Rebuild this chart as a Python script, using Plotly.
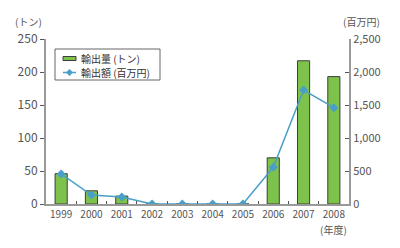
import plotly.graph_objects as go

years = ["1999", "2000", "2001", "2002", "2003", "2004", "2005", "2006", "2007", "2008"]
volume_t = [46, 20, 12, 0, 0, 0, 0, 70, 217, 193]
value_myen = [455, 136, 106, 0, 0, 0, 0, 556, 1727, 1459]
series_names = ["輸出量 (トン)", "輸出額 (百万円)"]

FONT = "Noto Sans CJK JP"
GRAY = "#555555"
AXIS = "#999999"
GREEN = "#7dc24b"
BLUE = "#4a9fc8"

fig = go.Figure()
fig.add_trace(go.Bar(
    x=years, y=volume_t, name=series_names[0],
    marker=dict(color=GREEN, line=dict(color="#3d3d3d", width=1)),
    width=0.4, yaxis="y",
))
fig.add_trace(go.Scatter(
    x=years, y=value_myen, name=series_names[1],
    mode="lines+markers",
    line=dict(color=BLUE, width=1.5),
    marker=dict(symbol="diamond", size=7, color=BLUE),
    yaxis="y2",
))

# compact legend drawn in paper coordinates (plot area is 303 x 165 px)
PW, PH = 303.0, 165.0
def px(x):
    return (x - 46) / PW
def py(y):
    return (204 - y) / PH

lx0, lx1, ly0, ly1 = px(55), px(160), py(49), py(80)
sx0, sx1 = px(63), px(76)
row1, row2 = py(58.5), py(72.5)
dx, dy = 3.5 / PW, 3.5 / PH
cx = px(69.5)

shapes = [
    dict(type="rect", xref="paper", yref="paper", x0=lx0, x1=lx1, y0=ly1, y1=ly0,
         line=dict(color="#666666", width=1), fillcolor="white", layer="above"),
    dict(type="rect", xref="paper", yref="paper", x0=sx0, x1=sx1,
         y0=row1 - 2 / PH, y1=row1 + 2 / PH,
         line=dict(color="#3d3d3d", width=1), fillcolor=GREEN, layer="above"),
    dict(type="line", xref="paper", yref="paper", x0=sx0, x1=sx1, y0=row2, y1=row2,
         line=dict(color=BLUE, width=1.5), layer="above"),
    dict(type="path", xref="paper", yref="paper",
         path=f"M {cx - dx} {row2} L {cx} {row2 + dy} L {cx + dx} {row2} L {cx} {row2 - dy} Z",
         line=dict(color=BLUE, width=0), fillcolor=BLUE, layer="above"),
]

legend_labels = [
    dict(text=name, xref="paper", yref="paper", x=px(80), y=row,
         xanchor="left", yanchor="middle", showarrow=False, borderpad=0,
         font=dict(size=10, color="#333333"))
    for name, row in zip(series_names, [row1, row2])
]

fig.update_layout(
    width=400, height=248,
    margin=dict(l=46, r=51, t=39, b=44),
    paper_bgcolor="white", plot_bgcolor="white",
    font=dict(family=FONT, color=GRAY, size=10),
    separators=".,",
    showlegend=False,
    xaxis=dict(
        type="category", range=[-0.5, 9.5],
        showline=True, linecolor=AXIS, linewidth=2,
        ticks="inside", tickson="boundaries", ticklen=3, tickcolor="#555555",
        showgrid=False, tickangle=0, tickfont=dict(size=10, color=GRAY),
    ),
    yaxis=dict(
        range=[0, 250], dtick=50,
        showline=True, linecolor=AXIS, linewidth=2,
        ticks="outside", ticklen=4, tickcolor="#555555",
        showgrid=False, zeroline=False,
        tickfont=dict(size=12, color=GRAY),
    ),
    yaxis2=dict(
        range=[0, 2500], dtick=500, overlaying="y", side="right",
        showline=True, linecolor=AXIS, linewidth=2,
        ticks="inside", ticklen=4, tickcolor="#555555",
        showgrid=False, zeroline=False,
        tickformat=",d",
        tickfont=dict(size=11, color=GRAY),
    ),
    shapes=shapes,
    annotations=legend_labels + [
        dict(text="(トン)", xref="paper", yref="paper", x=-0.005, y=1.05,
             xanchor="right", yanchor="bottom", showarrow=False,
             font=dict(size=10, color=GRAY)),
        dict(text="(百万円)", xref="paper", yref="paper", x=1.04, y=1.05,
             xanchor="center", yanchor="bottom", showarrow=False,
             font=dict(size=10, color=GRAY)),
        dict(text="(年度)", xref="x", yref="paper", x=9, y=-0.1,
             xanchor="center", yanchor="top", showarrow=False, borderpad=0,
             font=dict(size=10, color=GRAY)),
    ],
)

fig.write_html("out.html")
